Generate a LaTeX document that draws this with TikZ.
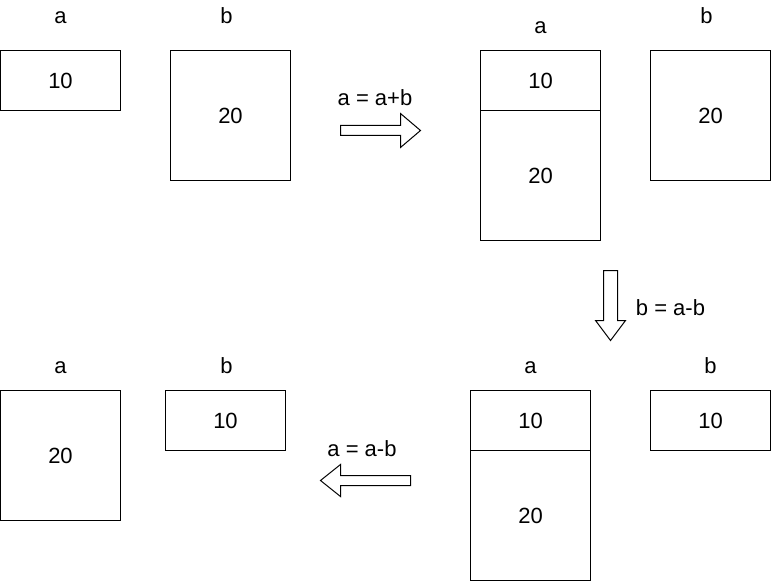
\documentclass[tikz,border=0pt]{standalone}
\usepackage{fontspec}
\setmainfont{Liberation Sans}
\usepackage{tikz}
\usetikzlibrary{positioning}

\begin{document}
\begin{tikzpicture}[
  x=0.75pt, y=-0.75pt,
  cell/.style={
    draw, line width=0.75pt, minimum width=90pt, minimum height=#1,
    inner sep=0pt, outer sep=0pt, font=\fontsize{16.5}{19}\selectfont
  },
  varname/.style={
    anchor=base, inner sep=0pt, font=\fontsize{16.5}{19}\selectfont
  },
  opname/.style={
    inner sep=0pt, font=\fontsize{16.5}{19}\selectfont
  },
  blockarrow/.style={
    draw, line width=0.75pt, fill=white, line join=miter
  }
]
\useasboundingbox (-0.5,-0.5) rectangle (770.5,580.5);

% Start: a = 10, b = 20
\node[cell=45pt] (a1) at (60,80) {10};
\node[cell=97.5pt] (b1) at (230,115) {20};
\node[varname] (a1lbl) at (60,23) {a};
\node[varname] (b1lbl) at (226,23) {b};

% Step 1
\node[opname] (op1) at (374.5,97) {a = a+b};
\draw[blockarrow] (340,125) -- (400,125) -- (400,113) -- (420,130)
  -- (400,147) -- (400,135) -- (340,135) -- cycle;

% After a = a+b
\node[cell=45pt] (a2top) at (540,80) {10};
\node[cell=97.5pt, below=0pt of a2top] (a2bot) {20};
\node[cell=97.5pt] (b2) at (710,115) {20};
\node[varname] (a2lbl) at (540,33) {a};
\node[varname] (b2lbl) at (706,23) {b};

% Step 2
\node[opname] (op2) at (670,307) {b = a-b};
\draw[blockarrow] (603,270) -- (617,270) -- (617,320) -- (625,320)
  -- (610,340) -- (595,320) -- (603,320) -- cycle;

% After b = a-b
\node[cell=45pt] (a3top) at (530,420) {10};
\node[cell=97.5pt, below=0pt of a3top] (a3bot) {20};
\node[cell=45pt] (b3) at (710,420) {10};
\node[varname] (a3lbl) at (530,373) {a};
\node[varname] (b3lbl) at (710,373) {b};

% Step 3
\node[opname] (op3) at (361.5,448) {a = a-b};
\draw[blockarrow] (410,475) -- (340,475) -- (340,464) -- (320,480)
  -- (340,496) -- (340,485) -- (410,485) -- cycle;

% End: a = 20, b = 10
\node[cell=97.5pt] (a4) at (60,455) {20};
\node[cell=45pt] (b4) at (225,420) {10};
\node[varname] (a4lbl) at (60,373) {a};
\node[varname] (b4lbl) at (226,373) {b};

\end{tikzpicture}
\end{document}
